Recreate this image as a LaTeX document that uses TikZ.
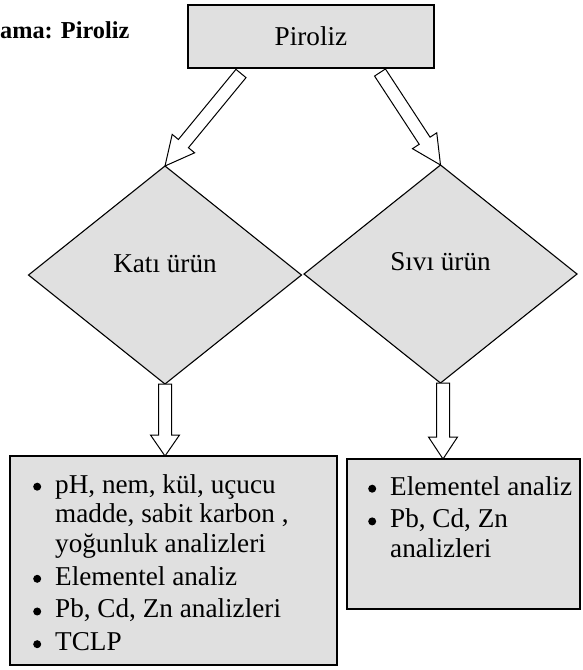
\documentclass[tikz,border=0pt]{standalone}
\usepackage{fontspec}
\setmainfont{Liberation Serif}
\usetikzlibrary{calc,shapes.geometric}

\definecolor{boxgray}{RGB}{224,224,224}

\tikzset{
  every node/.style={font=\fontsize{27.2pt}{29.7pt}\selectfont},
  graybox/.style={draw=black, line width=1.1pt, fill=boxgray, rectangle,
    inner sep=0pt, outer sep=0pt},
  graydiamond/.style={draw=black, line width=1.1pt, fill=boxgray, diamond,
    inner sep=0pt, outer sep=0pt, minimum width=273pt, minimum height=218pt},
  listtext/.style={anchor=north west, align=left, inner sep=0pt},
  hollowarrow/.style={draw=black, line width=1pt, fill=white, line join=miter},
}

% hollow block arrow: #1 head length, #2 tail point, #3 tip point
\newcommand\blockarrow[3]{%
  \coordinate (ba-n) at ($(#3)!#1!(#2)$);
  \draw[hollowarrow]
    ($(#2)!6.5pt!90:(#3)$) -- ($(ba-n)!6.5pt!90:(#3)$) --
    ($(ba-n)!14.5pt!90:(#3)$) -- (#3) --
    ($(ba-n)!14.5pt!-90:(#3)$) -- ($(ba-n)!6.5pt!-90:(#3)$) --
    ($(#2)!6.5pt!-90:(#3)$) -- cycle;}

% list bullet: a filled dot in a fixed-width box, and the matching indent
\newcommand\bul{\makebox[22pt][l]{\raisebox{2.5pt}{\tikz\fill[black] (0,0) circle (4pt);}}}
\newcommand\ind{\hspace*{22pt}}

\begin{document}
\begin{tikzpicture}[x=1pt, y=-1pt]
  \useasboundingbox (0,0) rectangle (582,670);

  % title
  \node[anchor=base west, inner sep=0pt, font=\fontsize{24.3pt}{28pt}\selectfont\bfseries]
    (title) at (0,38) {ama: Piroliz};

  % top process box
  \node[graybox, minimum width=246pt, minimum height=63pt] (piroliz) at (311,36.5) {Piroliz};

  % product diamonds
  \node[graydiamond] (kati) at (165,275) {};
  \node[graydiamond] (sivi) at (440.5,274) {};
  \node[inner sep=0pt] (katitxt) at ($(kati.center)+(0,-11)$) {Katı ürün};
  \node[inner sep=0pt] (sivitxt) at ($(sivi.center)+(0,-12)$) {Sıvı ürün};

  % analysis boxes
  \node[graybox, minimum width=327pt, minimum height=209pt] (katibox) at (173.5,560.5) {};
  \node[graybox, minimum width=233pt, minimum height=150pt] (sivibox) at (463.5,534) {};

  \node[listtext] (katilist) at (33,472.2) {%
    \strut\bul pH, nem, kül, uçucu\\
    \ind madde, sabit karbon ,\\
    \ind yoğunluk analizleri\\[3pt]
    \bul Elementel analiz\\[3pt]
    \bul Pb, Cd, Zn analizleri\\[3pt]
    \bul TCLP};
  \node[listtext] (sivilist) at (368,474.2) {%
    \strut\bul Elementel analiz\\[3pt]
    \bul Pb, Cd, Zn\\
    \ind analizleri};

  % connectors
  \coordinate (pt1) at ($(piroliz.south)+(-70,5.5)$);
  \coordinate (pt2) at ($(piroliz.south)+(69,4.5)$);
  \blockarrow{29pt}{pt1}{kati.north}
  \blockarrow{29pt}{pt2}{sivi.north}

  \coordinate (kt) at (kati.south);
  \coordinate (kb) at (kati.south |- katibox.north);
  \blockarrow{21pt}{kt}{kb}

  \coordinate (st) at ($(sivi.south)+(2.5,0)$);
  \coordinate (sb) at (st |- sivibox.north);
  \blockarrow{22pt}{st}{sb}
\end{tikzpicture}
\end{document}
